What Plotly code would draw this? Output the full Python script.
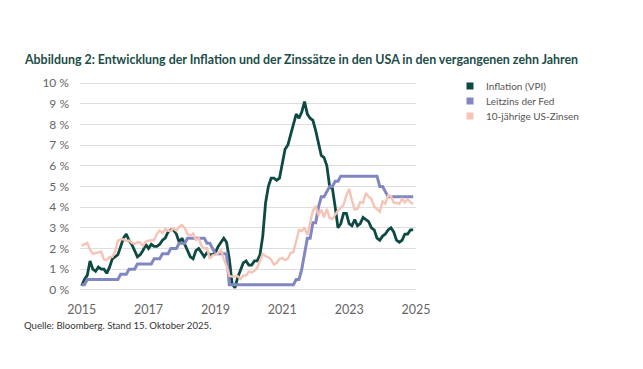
import numpy as np
import plotly.graph_objects as go

# Monthly observations, plotted from 2015 onward (120 months)
inflation = [0.2, 0.5, 0.7, 1.4, 1.0, 0.9, 1.1, 1.0, 1.0, 0.8, 1.1, 1.5,
             1.6, 1.7, 2.1, 2.5, 2.7, 2.4, 2.2, 1.9, 1.6, 1.7, 1.9, 2.2,
             2.0, 2.2, 2.1, 2.1, 2.2, 2.4, 2.5, 2.8, 2.9, 2.9, 2.7, 2.3,
             2.5, 2.2, 1.9, 1.6, 1.5, 1.9, 2.0, 1.8, 1.6, 1.8, 1.7, 1.7,
             1.8, 2.1, 2.3, 2.5, 2.3, 1.5, 0.3, 0.1, 0.6, 1.0, 1.3, 1.4,
             1.2, 1.2, 1.4, 1.4, 1.7, 2.6, 4.2, 5.0, 5.4, 5.4, 5.3, 5.4,
             6.2, 6.8, 7.0, 7.5, 7.9, 8.5, 8.3, 8.6, 9.1, 8.5, 8.3, 8.2,
             7.7, 7.1, 6.5, 6.4, 6.0, 5.0, 4.9, 4.0, 3.0, 3.2, 3.7, 3.7,
             3.2, 3.1, 3.4, 3.1, 3.2, 3.5, 3.4, 3.3, 3.0, 2.9, 2.5, 2.4,
             2.6, 2.7, 2.9, 3.0, 2.8, 2.4, 2.3, 2.4, 2.7, 2.7, 2.9, 2.9]

fed_rate = [0.25, 0.25, 0.5, 0.5, 0.5, 0.5, 0.5, 0.5, 0.5, 0.5, 0.5, 0.5,
            0.5, 0.5, 0.75, 0.75, 0.75, 1.0, 1.0, 1.0, 1.25, 1.25, 1.25, 1.25,
            1.25, 1.25, 1.5, 1.5, 1.5, 1.75, 1.75, 1.75, 2.0, 2.0, 2.0, 2.25,
            2.25, 2.25, 2.5, 2.5, 2.5, 2.5, 2.5, 2.5, 2.5, 2.25, 2.25, 2.0,
            1.75, 1.75, 1.75, 1.75, 1.75, 0.25, 0.25, 0.25, 0.25, 0.25, 0.25, 0.25,
            0.25, 0.25, 0.25, 0.25, 0.25, 0.25, 0.25, 0.25, 0.25, 0.25, 0.25, 0.25,
            0.25, 0.25, 0.25, 0.25, 0.25, 0.5, 0.5, 1.0, 1.75, 2.5, 2.5, 3.25,
            3.25, 4.0, 4.5, 4.5, 4.75, 5.0, 5.0, 5.25, 5.25, 5.5, 5.5, 5.5,
            5.5, 5.5, 5.5, 5.5, 5.5, 5.5, 5.5, 5.5, 5.5, 5.5, 5.5, 5.0,
            5.0, 4.75, 4.5, 4.5, 4.5, 4.5, 4.5, 4.5, 4.5, 4.5, 4.5, 4.5]

us10y = [2.14, 2.22, 2.27, 1.94, 1.74, 1.78, 1.83, 1.85, 1.47, 1.45, 1.58, 1.60,
         1.83, 2.37, 2.44, 2.45, 2.36, 2.39, 2.28, 2.21, 2.30, 2.29, 2.12, 2.33,
         2.38, 2.41, 2.41, 2.71, 2.87, 2.74, 2.95, 2.86, 2.86, 2.96, 2.86, 3.06,
         3.14, 2.99, 2.69, 2.63, 2.72, 2.41, 2.50, 2.13, 2.00, 2.02, 1.50, 1.67,
         1.69, 1.78, 1.92, 1.51, 1.15, 0.67, 0.64, 0.65, 0.66, 0.53, 0.70, 0.69,
         0.88, 0.84, 0.92, 1.07, 1.40, 1.74, 1.63, 1.58, 1.47, 1.22, 1.31, 1.49,
         1.55, 1.44, 1.51, 1.78, 1.83, 2.34, 2.89, 2.84, 3.01, 2.65, 3.19, 3.83,
         4.05, 3.61, 3.87, 3.51, 3.92, 3.47, 3.42, 3.64, 3.84, 3.96, 4.11, 4.57,
         4.88, 4.33, 3.88, 3.91, 4.25, 4.20, 4.68, 4.50, 4.40, 4.03, 3.90, 3.78,
         4.28, 4.17, 4.57, 4.54, 4.21, 4.21, 4.16, 4.40, 4.23, 4.37, 4.23, 4.15]

series_names = ["Inflation (VPI)", "Leitzins der Fed", "10-jährige US-Zinsen"]
series_colors = ["#0d4a43", "#8188c1", "#f6c4b6"]
tick_years = [2015, 2017, 2019, 2021, 2023, 2025]
y_ticks = list(range(0, 11))

t = 2015 + np.arange(len(inflation)) / 12.0

fig = go.Figure()
widths = [2.8, 3.0, 2.4]
for name, vals, col, w in zip(series_names, [inflation, fed_rate, us10y], series_colors, widths):
    fig.add_trace(go.Scatter(x=t, y=vals, mode="lines", name=name,
                             line=dict(color=col, width=w), showlegend=False,
                             hoverinfo="skip"))

# page offset (browser body margin) and plot area geometry, page pixels
OFF = 8
W, H = 643 - OFF, 369 - OFF
L, R, T, B = 80 - OFF, 416 - OFF, 81 - OFF, 294 - OFF
pw, ph = R - L, B - T

def px(xp):
    return (xp - OFF - L) / pw

def py(yp):
    return (B - (yp - OFF)) / ph

shapes = []
annotations = []
leg_rows = [86, 101, 116]
for name, col, yy in zip(series_names, series_colors, leg_rows):
    shapes.append(dict(type="rect", xref="paper", yref="paper",
                       x0=px(466.5), x1=px(473.5), y0=py(yy + 3.5), y1=py(yy - 3.5),
                       fillcolor=col, line=dict(width=0)))
    annotations.append(dict(xref="paper", yref="paper", x=px(484), y=py(yy),
                            xanchor="left", yanchor="middle", showarrow=False,
                            text=name, font=dict(family="Lato, Open Sans, sans-serif", size=10, color="#555555")))

annotations.append(dict(xref="paper", yref="paper", x=px(22), y=py(59),
                        xanchor="left", yanchor="middle", showarrow=False,
                        text="<b>Abbildung 2: Entwicklung der Inflation und der Zinssätze in den USA in den vergangenen zehn Jahren</b>",
                        font=dict(family="Lato, Noto Sans, sans-serif", size=12.4, color="#1b4d48")))
annotations.append(dict(xref="paper", yref="paper", x=px(22), y=py(325),
                        xanchor="left", yanchor="middle", showarrow=False,
                        text="Quelle: Bloomberg. Stand 15. Oktober 2025.",
                        font=dict(family="Lato, Noto Sans, sans-serif", size=9.6, color="#333333")))

fig.update_layout(
    width=W, height=H,
    margin=dict(l=L, r=W - R, t=T, b=H - B, pad=0),
    paper_bgcolor="white", plot_bgcolor="white",
    showlegend=False,
    xaxis=dict(range=[2014.95, 2025.0], tickmode="array", tickvals=tick_years,
               ticktext=[str(v) for v in tick_years], showgrid=False, zeroline=False,
               showline=False, ticks="", ticklabelstandoff=6,
               tickfont=dict(family="Lato, Open Sans, sans-serif", size=12.5, color="#666666")),
    yaxis=dict(range=[-0.2, 10.1], tickmode="array", tickvals=y_ticks,
               ticktext=[f"{v} %" for v in y_ticks], showgrid=True, gridcolor="#dedede",
               gridwidth=1, zeroline=False, showline=False, ticks="", ticklabelstandoff=10,
               tickfont=dict(family="Lato, Open Sans, sans-serif", size=12, color="#666666")),
    shapes=shapes, annotations=annotations,
)

fig.write_html("out.html")
